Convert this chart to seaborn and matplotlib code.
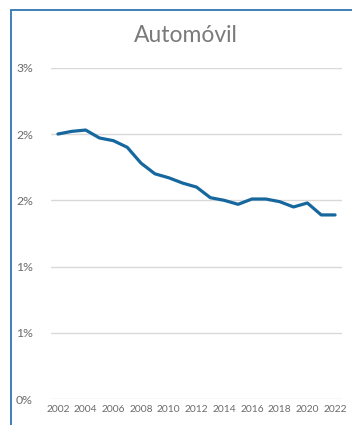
import math
import matplotlib
matplotlib.use('Agg')
import matplotlib.pyplot as plt
import matplotlib.patches as mpatches
from matplotlib.ticker import FuncFormatter
import seaborn as sns
import pandas as pd

# Share of spending (%)
years = list(range(2002, 2023))
share = [2.00, 2.02, 2.03, 1.97, 1.95, 1.90, 1.78, 1.70, 1.67, 1.63, 1.60,
         1.52, 1.50, 1.47, 1.51, 1.51, 1.49, 1.45, 1.48, 1.39, 1.39]
yticks = [0.0, 0.005, 0.010, 0.015, 0.020, 0.025]
title = 'Automóvil'

df = pd.DataFrame({'year': years, 'value': [v / 100 for v in share]})

sns.set_style('white')
plt.rcParams['font.family'] = ['Lato', 'DejaVu Sans']

fig = plt.figure(figsize=(3.52, 4.25), dpi=100)
ax = fig.add_axes([51 / 352, 1 - 399.3 / 425, 291 / 352, (399.3 - 67.7) / 425])

sns.lineplot(data=df, x='year', y='value', ax=ax, color='#16679E',
             linewidth=2.3, solid_joinstyle='round', solid_capstyle='round')

ax.set_xlim(2001.5, 2022.5)
ax.set_ylim(0, 0.025)
ax.set_xticks(years[::2])
ax.set_yticks(yticks)
ax.yaxis.set_major_formatter(
    FuncFormatter(lambda v, p: '%d%%' % math.floor(v * 100 + 0.5)))
ax.grid(axis='y', color='#D9D9D9', linewidth=1)
ax.set_axisbelow(True)
for s in ax.spines.values():
    s.set_visible(False)
ax.tick_params(axis='both', length=0, colors='#6B6B6B')
ax.tick_params(axis='x', labelsize=7.4, pad=4)
ax.tick_params(axis='y', labelsize=8.8, pad=13)
ax.set_xlabel('')
ax.set_ylabel('')

fig.text(186 / 352, 1 - 35 / 425, title, ha='center', va='center',
         fontsize=16.5, color='#7A7A7A')

# blue frame around the chart (cut by the image edge)
frame = mpatches.Rectangle((10.5 / 352, -0.1), 1.2, 1.1 - 10.5 / 425,
                           transform=fig.transFigure, fill=False,
                           edgecolor='#2E75B6', linewidth=1.3, clip_on=False)
fig.patches.append(frame)

fig.savefig('out.png', dpi=100)
